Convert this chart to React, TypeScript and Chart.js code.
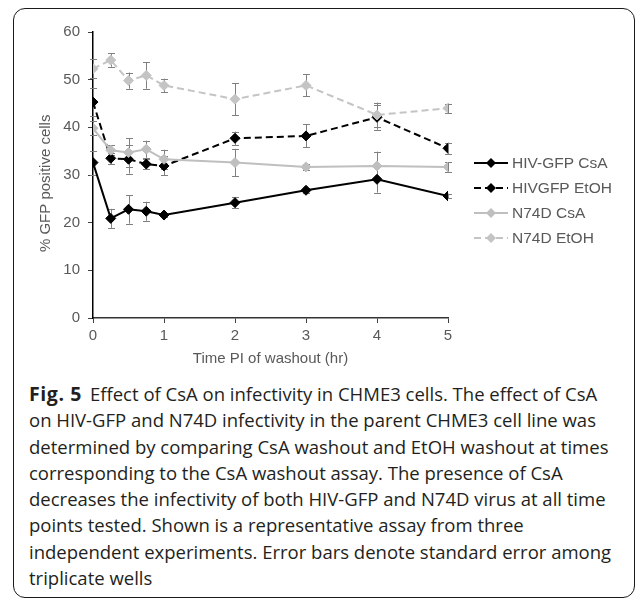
import { useEffect, useRef } from "react";
import { Chart, registerables } from "chart.js";

Chart.register(...registerables);

const times = [0, 0.25, 0.5, 0.75, 1, 2, 3, 4, 5];
const seriesLabels = ["HIV-GFP CsA", "HIVGFP EtOH", "N74D CsA", "N74D EtOH"];
const hivCsA = [32.6, 20.9, 22.8, 22.4, 21.6, 24.2, 26.8, 29.1, 25.6];
const hivCsAErr = [2.5, 2.0, 3.0, 2.0, 0.5, 1.2, 0.5, 2.8, 0.5];
const hivEtOH = [45.3, 33.5, 33.3, 32.3, 31.9, 37.7, 38.2, 42.1, 35.6];
const hivEtOHErr = [3.0, 1.2, 3.0, 1.0, 2.0, 1.4, 2.4, 2.6, 1.2];
const n74dCsA = [39.8, 35.2, 34.7, 35.4, 33.3, 32.6, 31.7, 31.9, 31.7];
const n74dCsAErr = [1.5, 1.0, 3.0, 1.8, 2.0, 2.9, 0.7, 3.0, 1.0];
const n74dEtOH = [52.3, 54.1, 49.8, 50.9, 48.8, 45.9, 48.8, 42.6, 44.0];
const n74dEtOHErr = [2.0, 1.4, 1.7, 2.8, 1.4, 3.4, 2.3, 2.6, 1.0];
const xTicks = [0, 1, 2, 3, 4, 5];
const yTicks = [0, 10, 20, 30, 40, 50, 60];

const captionLines = [
  "Effect of CsA on infectivity in CHME3 cells. The effect of CsA",
  "on HIV-GFP and N74D infectivity in the parent CHME3 cell line was",
  "determined by comparing CsA washout and EtOH washout at times",
  "corresponding to the CsA washout assay. The presence of CsA",
  "decreases the infectivity of both HIV-GFP and N74D virus at all time",
  "points tested. Shown is a representative assay from three",
  "independent experiments. Error bars denote standard error among",
  "triplicate wells",
];

const values = [hivCsA, hivEtOH, n74dCsA, n74dEtOH];
const errors = [hivCsAErr, hivEtOHErr, n74dCsAErr, n74dEtOHErr];
const colors = ["#000000", "#000000", "#bfbfbf", "#c4c4c4"];
const dashes = [[], [7, 4], [], [7, 4]];

const FONT = "'Liberation Sans', Arial, sans-serif";
const TXT = "#595959";

const errorBars = {
  id: "errorBars",
  beforeDatasetsDraw(chart: any) {
    const { ctx, scales } = chart;
    ctx.save();
    ctx.strokeStyle = "#808080";
    ctx.lineWidth = 1;
    values.forEach((vals, i) => {
      vals.forEach((v, j) => {
        const e = errors[i][j];
        const x = Math.round(scales.x.getPixelForValue(times[j])) + 0.5;
        const yt = scales.y.getPixelForValue(v + e);
        const yb = scales.y.getPixelForValue(v - e);
        ctx.beginPath();
        ctx.moveTo(x, yt);
        ctx.lineTo(x, yb);
        ctx.moveTo(x - 3.5, Math.round(yt) + 0.5);
        ctx.lineTo(x + 3.5, Math.round(yt) + 0.5);
        ctx.moveTo(x - 3.5, Math.round(yb) + 0.5);
        ctx.lineTo(x + 3.5, Math.round(yb) + 0.5);
        ctx.stroke();
      });
    });
    ctx.restore();
  },
};

const sideLegend = {
  id: "sideLegend",
  afterDraw(chart: any) {
    const { ctx } = chart;
    ctx.save();
    chart.data.datasets.forEach((ds: any, i: number) => {
      const y = 163 + i * 25;
      ctx.strokeStyle = ds.borderColor;
      ctx.lineWidth = 2;
      ctx.setLineDash(ds.borderDash || []);
      ctx.beginPath();
      ctx.moveTo(474, y);
      ctx.lineTo(508, y);
      ctx.stroke();
      ctx.setLineDash([]);
      ctx.fillStyle = ds.pointBackgroundColor;
      ctx.beginPath();
      ctx.moveTo(491 - 5, y);
      ctx.lineTo(491, y - 5);
      ctx.lineTo(491 + 5, y);
      ctx.lineTo(491, y + 5);
      ctx.closePath();
      ctx.fill();
      ctx.fillStyle = TXT;
      ctx.font = `15.5px ${FONT}`;
      ctx.textBaseline = "middle";
      ctx.textAlign = "left";
      ctx.fillText(ds.label, 512, y + 1);
    });
    ctx.restore();
  },
};

export default function App() {
  const ref = useRef<HTMLCanvasElement>(null);
  useEffect(() => {
    if (!ref.current) return;
    const chart = new Chart(ref.current, {
      type: "line",
      data: {
        datasets: values.map((vals, i) => ({
          label: seriesLabels[i],
          data: times.map((t, j) => ({ x: t, y: vals[j] })),
          borderColor: colors[i],
          backgroundColor: colors[i],
          pointBackgroundColor: colors[i],
          pointBorderColor: colors[i],
          borderDash: dashes[i],
          borderWidth: 2,
          pointStyle: "rectRot",
          pointRadius: 5,
          pointBorderWidth: 1,
          tension: 0,
          fill: false,
          order: 3 - i,
        })),
      },
      options: {
        animation: false,
        responsive: false,
        events: [],
        layout: { padding: { left: 0, top: 32, right: 187, bottom: 0 } },
        plugins: { legend: { display: false }, tooltip: { enabled: false } },
        scales: {
          x: {
            type: "linear",
            min: 0,
            max: 5,
            afterBuildTicks: (s: any) => {
              s.ticks = xTicks.map((v) => ({ value: v }));
            },
            afterFit: (s: any) => {
              s.height = 62;
            },
            ticks: { color: TXT, font: { size: 15, family: FONT }, padding: 4, maxRotation: 0 },
            grid: { drawOnChartArea: false, drawTicks: true, tickLength: 5, color: "#404040" },
            border: { color: "#333333", width: 1.5 },
            title: {
              display: true,
              text: "Time PI of washout (hr)",
              color: TXT,
              font: { size: 15, family: FONT },
              padding: { top: 0, bottom: 12 },
            },
          },
          y: {
            min: 0,
            max: 60,
            afterBuildTicks: (s: any) => {
              s.ticks = yTicks.map((v) => ({ value: v }));
            },
            afterFit: (s: any) => {
              s.width = 93;
            },
            ticks: { color: TXT, font: { size: 15, family: FONT }, padding: 8 },
            grid: { drawOnChartArea: false, drawTicks: true, tickLength: 5, color: "#404040" },
            border: { color: "#000000", width: 1.5 },
            title: {
              display: true,
              text: "% GFP positive cells    ",
              color: TXT,
              font: { size: 15, family: FONT },
              padding: { top: 37, bottom: 0 },
            },
          },
        },
      },
      plugins: [errorBars, sideLegend],
    });
    return () => chart.destroy();
  }, []);

  return (
    <div style={{ position: "absolute", left: 0, top: 0, width: 635, height: 599, background: "#fff", overflow: "hidden" }}>
      <div
        style={{
          position: "absolute",
          left: 13,
          top: 8,
          width: 622,
          height: 590,
          boxSizing: "border-box",
          border: "1.5px solid #1a1a1a",
          borderRadius: 12,
        }}
      />
      <canvas ref={ref} width={635} height={380} style={{ position: "absolute", left: 0, top: 0, width: 635, height: 380 }} />
      <div
        style={{
          position: "absolute",
          left: 29,
          top: 381,
          fontFamily: "'Open Sans', sans-serif",
          fontSize: 18.5,
          lineHeight: "26.3px",
          color: "#231f20",
          whiteSpace: "nowrap",
        }}
      >
        {captionLines.map((l, i) => (
          <div key={i}>
            {i === 0 ? (
              <b style={{ display: "inline-block", width: 61, fontSize: 19.5, letterSpacing: 0.6 }}>Fig. 5</b>
            ) : null}
            {l}
          </div>
        ))}
      </div>
    </div>
  );
}
